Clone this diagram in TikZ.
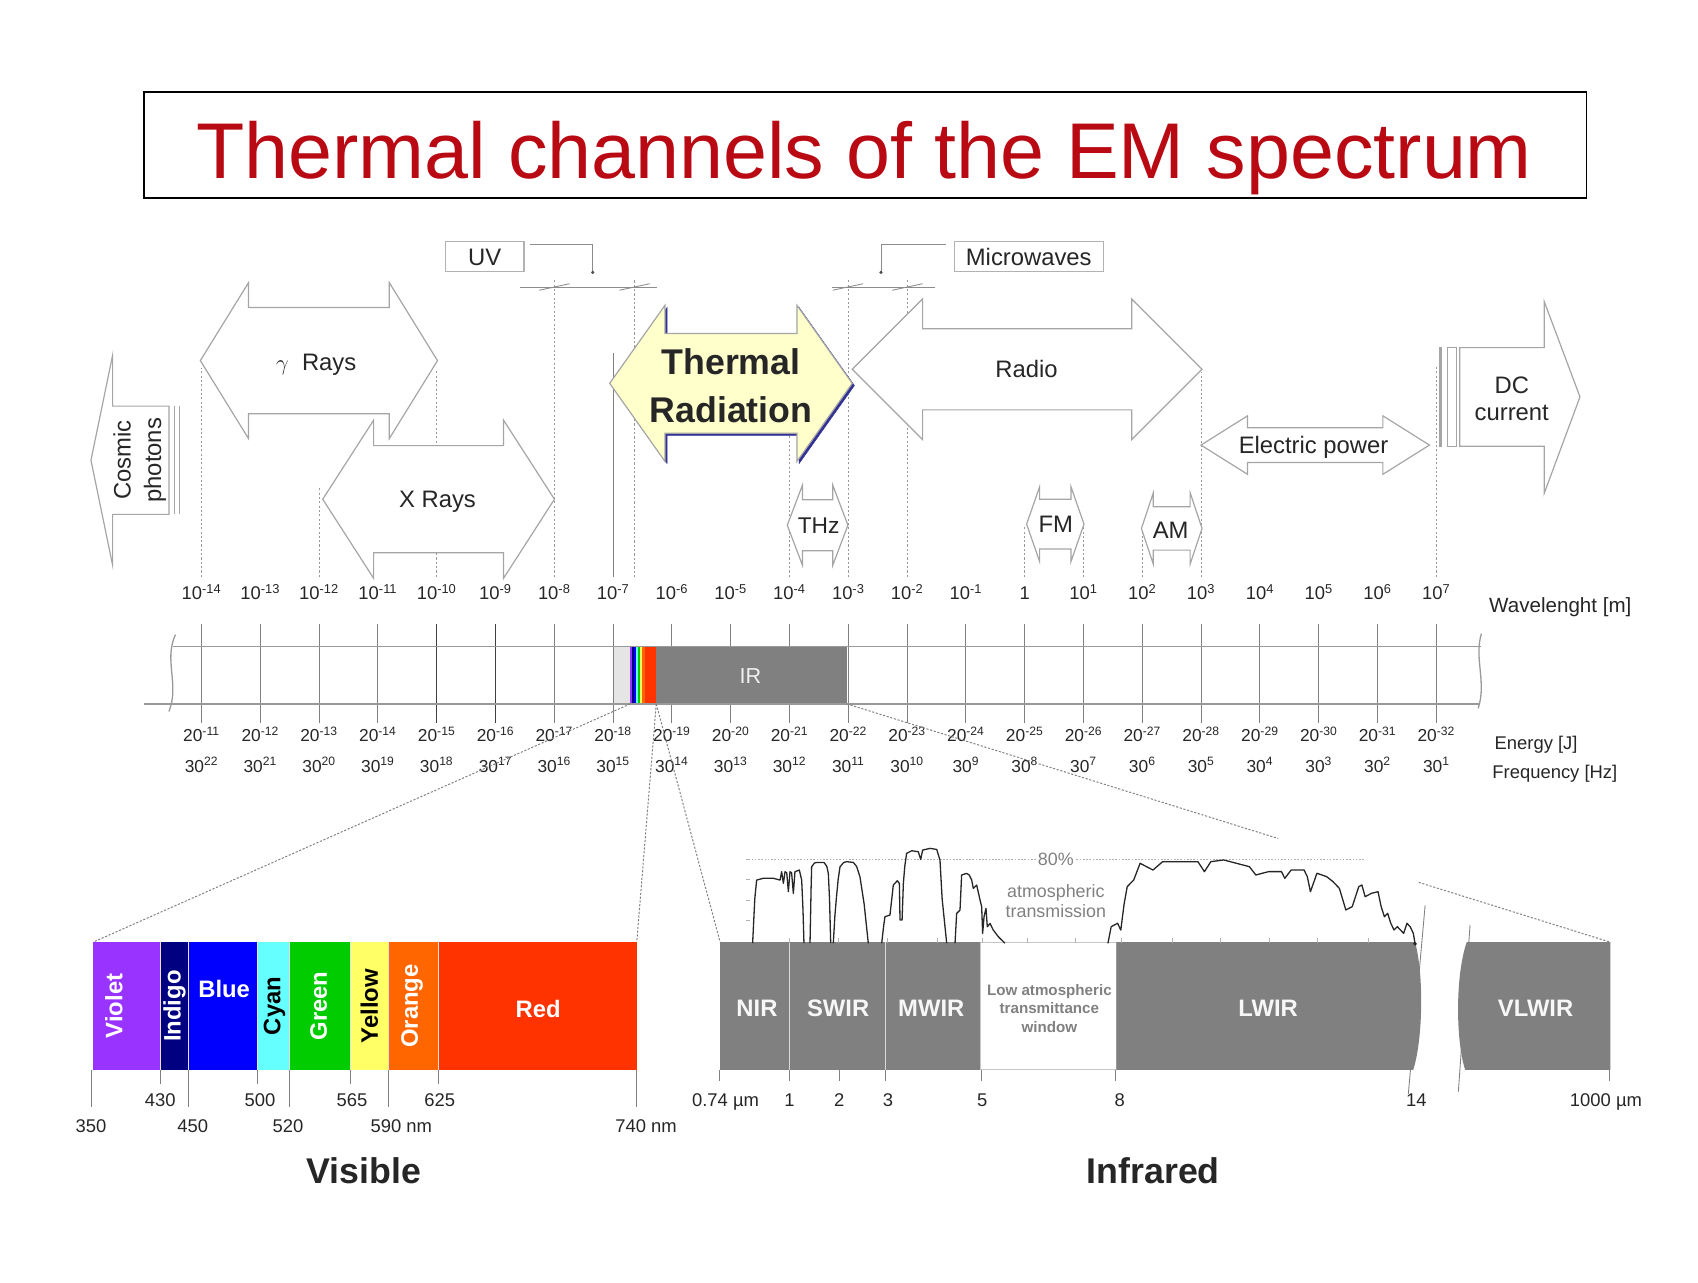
\documentclass[tikz,border=0pt]{standalone}
\usepackage{fontspec}
\setmainfont{Liberation Sans}
\usetikzlibrary{positioning,calc}

\definecolor{titlered}{RGB}{185,10,20}
\definecolor{thermalfill}{RGB}{255,255,204}
\definecolor{thermalshade}{RGB}{50,50,150}
\definecolor{arrowgray}{RGB}{165,165,165}
\definecolor{irgray}{RGB}{128,128,128}
\definecolor{cviolet}{RGB}{153,51,255}
\definecolor{cindigo}{RGB}{0,0,128}
\definecolor{cblue}{RGB}{0,0,255}
\definecolor{ccyan}{RGB}{102,255,255}
\definecolor{cgreen}{RGB}{0,204,0}
\definecolor{cyellow}{RGB}{255,255,102}
\definecolor{corange}{RGB}{255,102,0}
\definecolor{cred}{RGB}{255,51,0}

% double arrow: [style]{left tip}{right tip}{centre y}{head length}{shaft half}{head half}
\newcommand{\dblarrow}[7][bandarrow]{%
  \draw[#1] (#2,#4) -- ({#2+#5},{#4-#7}) -- ({#2+#5},{#4-#6})
    -- ({#3-#5},{#4-#6}) -- ({#3-#5},{#4-#7}) -- (#3,#4)
    -- ({#3-#5},{#4+#7}) -- ({#3-#5},{#4+#6}) -- ({#2+#5},{#4+#6})
    -- ({#2+#5},{#4+#7}) -- cycle;}

\begin{document}
\begin{tikzpicture}[
  x=1pt, y=-1pt,
  every node/.style={inner sep=0pt, text=black!85},
  titlebox/.style={draw=black, line width=1.8, minimum width=1332, minimum height=98},
  titletext/.style={font=\fontsize{73}{80}\selectfont, text=titlered, anchor=base},
  scalelbl/.style={font=\fontsize{17}{20}\selectfont, anchor=base, text height=16, text depth=3},
  enlbl/.style={font=\fontsize{16}{19}\selectfont, anchor=base},
  axislbl/.style={font=\fontsize{17}{20}\selectfont, anchor=base west},
  arrowlbl/.style={font=\fontsize{22}{26}\selectfont, text height=15.8, text depth=0},
  twoline/.style={font=\fontsize{22}{#1}\selectfont, align=center},
  labelbox/.style={draw=gray!60, line width=1, font=\fontsize{22}{26}\selectfont, text height=15.8, text depth=0},
  bandarrow/.style={draw=arrowgray, fill=white, line width=1.1},
  thermalarrow/.style={draw=arrowgray, fill=thermalfill, line width=1.1},
  guide/.style={draw=gray!80, line width=0.8, dash pattern=on 2pt off 2pt},
  tickline/.style={draw=gray, line width=0.8},
  darktick/.style={draw=black!75, line width=1.1},
  bandline/.style={draw=gray!80, line width=1.2},
  dimline/.style={draw=gray!90, line width=0.8},
  zoomline/.style={draw=gray, line width=0.9, dash pattern=on 2pt off 1.5pt},
  panellbl/.style={font=\bfseries\fontsize{22}{26}\selectfont, text=white, text height=15.8, text depth=0},
  windowlbl/.style={font=\bfseries\fontsize{14}{17}\selectfont, text=gray, align=center},
  graphlbl/.style={font=\fontsize{16.5}{18.4}\selectfont, text=gray, align=center},
  numlbl/.style={font=\fontsize{17}{20}\selectfont, anchor=base},
  headlbl/.style={font=\bfseries\fontsize{33}{38}\selectfont, anchor=base},
  curve/.style={draw=black!85, line width=1.2, line join=round}
]
\useasboundingbox (0,0) rectangle (1568,1184);

% TITLE
\node[titlebox] (tbox) at (799,134) {};
\node[titletext] (title) at (798,165) {Thermal channels of the EM spectrum};

% SCALE
\foreach \i in {0,...,21}{
  \pgfmathsetmacro{\xx}{186+54.3*\i}
  \pgfmathtruncatemacro{\wl}{\i-14}
  \pgfmathtruncatemacro{\en}{-11-\i}
  \pgfmathtruncatemacro{\fr}{22-\i}
  \ifnum\i=4 \def\tk{darktick}\else\ifnum\i=5 \def\tk{darktick}\else\def\tk{tickline}\fi\fi
  \draw[\tk] (\xx,576) -- (\xx,668);
  \ifnum\wl=0
    \node[scalelbl] (wl\i) at (\xx,554) {1};
  \else
    \node[scalelbl] (wl\i) at (\xx,554) {10\textsuperscript{\wl}};
  \fi
  \node[enlbl] (en\i) at (\xx,685) {20\textsuperscript{\en}};
  \node[enlbl] (fr\i) at (\xx,713) {30\textsuperscript{\fr}};
}
\node[axislbl, font=\fontsize{19}{22}\selectfont] (wavelbl) at (1375,566) {Wavelenght [m]};
\node[axislbl] (enlbl) at (1380,692) {Energy [J]};
\node[axislbl] (frlbl) at (1378,719) {Frequency [Hz]};

% GUIDES
\foreach \k/\top in {0/339, 2/449, 4/340, 6/258, 10/400, 11/258, 12/258, 14/484, 15/484, 16/484, 17/343, 21/336}
  \draw[guide] (wl\k.north) ++(0,-5) -- ++(0,{\top-532});
\coordinate (uvR) at (586,533);
\draw[guide] (uvR) -- ++(0,-274);
\draw[tickline] (wl7.north) ++(0,-5) -- ++(0,-207);

% UV AND MICROWAVES
\node[labelbox, minimum width=72.5, minimum height=28] (uvbox) at (447.6,237) {UV};
\node[labelbox, minimum width=138, minimum height=28] (mwbox) at (950,237) {Microwaves};
\draw[dimline] (uvbox.north east) ++(5,3) -- ++(58,0) -- ++(0,26) coordinate (uvdot);
\fill[black!70] (uvdot) circle (1.6);
\draw[dimline] (mwbox.north west) ++(-7,3) -- ++(-60,0) -- ++(0,26) coordinate (mwdot);
\fill[black!70] (mwdot) circle (1.6);
\draw[dimline] (480,265) -- (607,265);
\draw[dimline] (498,268) -- (526,262);
\draw[dimline] (572,268) -- (600,262);
\draw[dimline] (768,265) -- (863,265);
\draw[dimline] (769,268) -- (797,262);
\draw[dimline] (824,268) -- (852,262);

% BAND
\fill[black!10] (567,597) rectangle (582,650);
\foreach \xa/\xb/\col in {582/583.5/cviolet, 583.5/585/cindigo, 585/587.5/cblue, 587.5/589/ccyan,
    589/590.7/cgreen, 590.7/592.8/cyellow, 592.8/595.5/corange, 595.5/606/cred}
  \fill[\col] (\xa,597) rectangle (\xb,650);
\fill[irgray] (606,597) rectangle (782,650);
\node[arrowlbl, font=\fontsize{20}{24}\selectfont, text=white!88!gray] (ir) at (693,623) {IR};
\draw[bandline] (160,597) -- (1368,597);
\draw[bandline] (133,650) -- (1366,650);
\draw[bandline] (162,586) .. controls (151,610) and (166,632) .. (156,657);
\draw[bandline] (1368,585) .. controls (1361,608) and (1373,630) .. (1365,654);

% ARROWS
\draw[bandarrow] (84,425) -- (104,328) -- (104,375) -- (156,375) -- (156,475) -- (104,475) -- (104,522) -- cycle;
\draw[arrowgray, line width=1.1] (161,375) -- (161,475) (166,375) -- (166,475);
\node[twoline=28, rotate=90] (cosmic) at (129,425) {Cosmic\\photons};

\dblarrow{185}{404}{333}{44.5}{49}{72}
\node[arrowlbl] (gamma) at (292,334) {$\gamma$\ \ Rays};
\dblarrow{298}{512}{461}{47}{49.5}{73}
\node[arrowlbl] (xrays) at (404,461) {X Rays};

\begin{scope}[shift={(2,2)}]
  \dblarrow[fill=thermalshade, draw=thermalshade]{563}{787}{354}{51}{46}{72}
\end{scope}
\dblarrow[thermalarrow]{563}{787}{354}{51}{46}{72}
\node[font=\bfseries\fontsize{33}{44}\selectfont, align=center] (thermal) at (675,356) {Thermal\\Radiation};

\dblarrow{787}{1110}{341}{65}{37.5}{65}
\node[arrowlbl] (radio) at (948,341) {Radio};
\dblarrow{727}{783}{485}{14}{23.5}{37}
\node[arrowlbl, font=\fontsize{21}{25}\selectfont] (thz) at (756,485) {THz};
\dblarrow{948}{1001}{484}{12}{23}{34.5}
\node[arrowlbl] (fm) at (975,484) {FM};
\dblarrow{1054}{1110}{488}{11}{20}{33}
\node[arrowlbl] (am) at (1081,489) {AM};
\dblarrow{1109}{1320}{411}{43}{16}{27}
\node[arrowlbl] (power) at (1213,411) {Electric power};

\draw[arrowgray, line width=3] (1330,320) -- (1330,413);
\draw[bandarrow] (1336.5,321) rectangle (1345,412);
\draw[bandarrow] (1348,321) -- (1426,321) -- (1426,278.5) -- (1459,366.5) -- (1426,455.5) -- (1426,412) -- (1348,412) -- cycle;
\node[twoline=25] (dc) at (1396,368) {DC\\current};

% ZOOM LINES
\coordinate (rbL) at (582,650);
\coordinate (rbR) at (606,650);
\coordinate (irR) at (782,650);
\coordinate (visNW) at (86,870);
\coordinate (visNE) at (588,870);
\coordinate (irNW) at (665,870);
\coordinate (irNE) at (1487,870);
\draw[zoomline] (rbL) -- (visNW);
\draw[zoomline] (rbR) -- (visNE);
\draw[zoomline] (rbR) -- (irNW);
\draw[zoomline] (irR) -- ($(irR)!0.565!(irNE)$) ($(irR)!0.749!(irNE)$) -- (irNE);

% VISIBLE
\foreach \xa/\xb/\col in {86/148/cviolet, 148/174/cindigo, 174/238/cblue, 238/267/ccyan,
    267/324/cgreen, 324/359/cyellow, 359/405/corange, 405/588/cred}
  \fill[\col] (\xa,870) rectangle (\xb,988);
\foreach \x in {148,174,238,267,324,359,405}
  \draw[white!80!gray, line width=0.8] (\x,870) -- (\x,988);
\node[panellbl, rotate=90] (violet) at (105,929) {Violet};
\node[panellbl, rotate=90] (indigo) at (159,929) {Indigo};
\node[panellbl] (blue) at (207,913) {Blue};
\node[panellbl, rotate=90, text=black] (cyan) at (251,929) {Cyan};
\node[panellbl, rotate=90] (green) at (294,929) {Green};
\node[panellbl, rotate=90, text=black] (yellow) at (341,929) {Yellow};
\node[panellbl, rotate=90] (orange) at (378,929) {Orange};
\node[panellbl] (red) at (497,932) {Red};

\foreach \x/\yb in {84/1022, 148/1001, 174/1022, 238/1001, 267/1022, 324/1001, 359/1022, 405/1001, 588/1022}
  \draw[tickline] (\x,988) -- (\x,\yb);
\node[numlbl] (v430) at (148,1022) {430};
\node[numlbl] (v500) at (240,1022) {500};
\node[numlbl] (v565) at (325,1022) {565};
\node[numlbl] (v625) at (406,1022) {625};
\node[numlbl] (v350) at (84,1046) {350};
\node[numlbl] (v450) at (178,1046) {450};
\node[numlbl] (v520) at (266,1046) {520};
\node[numlbl, anchor=base west] (v590) at (342,1046) {590 nm};
\node[numlbl, anchor=base west] (v740) at (568,1046) {740 nm};
\node[headlbl] (visible) at (336,1093) {Visible};

% INFRARED
\fill[irgray] (665,870) rectangle (905,988);
\draw[black!22, line width=0.8] (905,870) rectangle (1031,988);
\fill[irgray] (1031,870) -- (1306.7,870) .. controls (1315,900) and (1314,960) .. (1305,988) -- (1031,988) -- cycle;
\fill[irgray] (1354.4,870) .. controls (1344,900) and (1344,960) .. (1353,988) -- (1487,988) -- (1487,870) -- cycle;
\draw[white!70!gray, line width=0.9] (729,870) -- (729,988) (818,870) -- (818,988);
\draw[gray, line width=0.8] (1316,836) -- (1300.5,1010) (1357.5,854) -- (1346.7,1008);
\node[panellbl, text=white!94!gray] (nir) at (699,931) {NIR};
\node[panellbl, text=white!94!gray] (swir) at (774,931) {SWIR};
\node[panellbl, text=white!94!gray] (mwir) at (860,931) {MWIR};
\node[windowlbl] (window) at (969,931) {Low atmospheric\\transmittance\\window};
\node[panellbl, text=white!94!gray] (lwir) at (1171,931) {LWIR};
\node[panellbl, text=white!94!gray] (vlwir) at (1418,931) {VLWIR};

\foreach \x in {664,729,775,818,906,1030,1486}
  \draw[tickline] (\x,988) -- (\x,998);
\node[numlbl] (i074) at (670,1022) {0.74 µm};
\node[numlbl] (i1) at (729,1022) {1};
\node[numlbl] (i2) at (775,1022) {2};
\node[numlbl] (i3) at (820,1022) {3};
\node[numlbl] (i5) at (907,1022) {5};
\node[numlbl] (i8) at (1034,1022) {8};
\node[numlbl] (i14) at (1308,1022) {14};
\node[numlbl] (i1000) at (1483,1022) {1000 µm};
\node[headlbl] (infrared) at (1065,1093) {Infrared};

% TRANSMISSION
\draw[gray!60, dash pattern=on 1.5pt off 1.5pt] (691,793) -- (1261,793);
\foreach \y in {793,812,831,850}
  \draw[gray!60] (689,\y) -- (693,\y);
\foreach \x in {729,774,819,865,907,949,993,1035,1082,1127,1172,1216,1263}
  \draw[gray!60] (\x,871) -- (\x,866);
\node[graphlbl, fill=white, inner sep=1] (pct) at (975,794) {80\%};
\node[graphlbl] (atm) at (975,832) {atmospheric\\transmission};

\draw[curve] plot coordinates {(695,871) (697,830) (698.7,812.7) (705,811) (714,811) (720.3,812.7)
  (721.8,805) (723.4,815.7) (724.9,805) (726.5,806) (728,823.4) (729.5,805) (731,806) (732.6,825)
  (734.1,805) (738.1,803.4) (740.3,812.7) (741.5,840) (742.4,871)};
\draw[curve] plot coordinates {(748,871) (749,820) (749.5,800.4) (752,797) (754.1,796.4) (760.9,796.4)
  (763.5,800) (764.9,806.5) (766,830) (767.1,871)};
\draw[curve] plot coordinates {(769.5,871) (771,845) (772.6,826.5) (774,812) (775.7,800.4) (779,796.5)
  (781.8,795.7) (788,796.4) (791,800) (794.1,809.6) (798,835) (801.8,871)};
\draw[curve] plot coordinates {(814.2,871) (816,855) (817.2,846.5) (821.8,845) (823.5,830) (824.9,817.3)
  (828.6,813.3) (830.5,815.7) (831.1,849.6) (833,849.6) (834.2,815.7) (835.5,800) (837.2,788)
  (841.9,785.6) (848,786.5) (850.2,793.6) (852,785) (858.8,783.4) (865,784.4) (868,794.2) (870,830) (874.2,871)};
\draw[curve] plot coordinates {(881.9,871) (883.4,843.5) (886.5,840.4) (888,808) (892.6,806.5) (895,808)
  (897.3,812.7) (898.8,820.4) (901.9,817.3) (905,831.1) (906.5,837.3) (907.4,861.9) (908.7,846.5)
  (910.5,838.8) (911.7,855.8) (914.2,852.7) (917.2,858.8) (921.9,865) (928,871)};
\draw[curve] plot coordinates {(1023.1,871.1) (1026.1,855.7) (1032,852.6) (1035,858.8) (1038,835)
  (1040.9,818.8) (1046.9,812.6) (1052.8,797.2) (1058.7,800.3) (1064.7,803.4) (1073.6,795.7)
  (1088.4,795.7) (1106.2,795.7) (1112.2,804.9) (1118.1,795.7) (1130,794.1) (1141.8,797.2)
  (1153.7,800.3) (1159.7,808) (1165.6,806.4) (1171.5,804.9) (1183.4,804.9) (1186.4,811.1)
  (1192.3,803.4) (1204.2,803.4) (1207.2,809.5) (1210.1,823.4) (1216.1,806.4) (1225,809.5)
  (1230.9,814.1) (1236.8,820.3) (1242.8,840.3) (1248.7,837.2) (1254.7,818.8) (1257.6,817.2)
  (1260.6,828) (1266.5,824.9) (1272.5,823.4) (1275.4,837.2) (1278.4,846.5) (1281.4,843.4)
  (1284.3,852.6) (1287.3,858.8) (1290.3,855.7) (1296.2,861.9) (1299.2,852.6) (1302.2,855.7)
  (1305.1,861.9) (1306.7,871.5)};
\fill[black!85] (1306.7,871.5) circle (1.8);

\end{tikzpicture}
\end{document}
